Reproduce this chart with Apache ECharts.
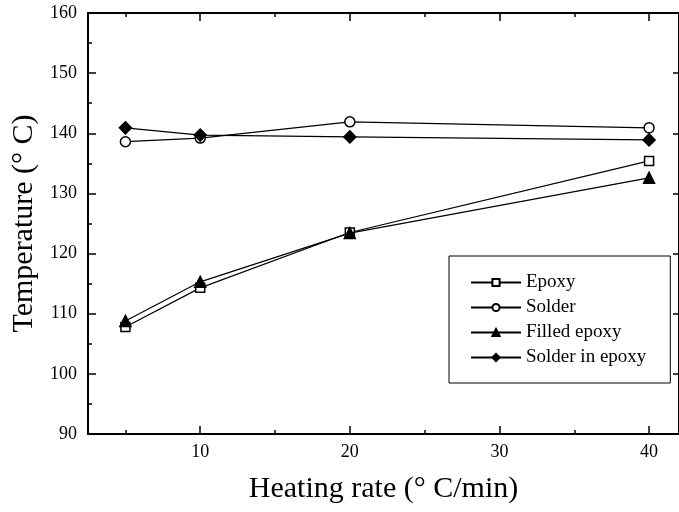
<!DOCTYPE html>
<html>
<head>
<meta charset="utf-8">
<script src="https://cdn.jsdelivr.net/npm/echarts@6/dist/echarts.min.js"></script>
<style>
  html, body { margin: 0; padding: 0; background: #fff; }
  #chart { width: 679px; height: 512px; }
</style>
</head>
<body>
<div id="chart"></div>
<script>
// heating rate (°C/min)
var rates = [5, 10, 20, 40];
// temperatures (°C)
var epoxy = [107.8, 114.3, 123.5, 135.4];
var solder = [138.6, 139.2, 141.9, 140.9];
var filledEpoxy = [108.8, 115.3, 123.4, 132.6];
var solderInEpoxy = [140.9, 139.7, 139.4, 138.9];

var xMajor = [10, 20, 30, 40];
var xMinor = [5, 15, 25, 35];

var font = 'Liberation Serif, Times New Roman, serif';

function pairs (ys) {
  return rates.map(function (x, i) { return [x, ys[i]] })
}

function tickAxis (position, values, len, isMain) {
  var ax = {
    type: 'value',
    position: position,
    min: 2.5,
    max: 42,
    axisLine: { show: isMain, lineStyle: { color: '#000', width: 2 } },
    axisTick: { show: true, inside: true, length: len, customValues: values, lineStyle: { color: '#000', width: 1.5 } },
    axisLabel: { show: false },
    splitLine: { show: false }
  }
  return ax
}

var mainX = tickAxis('bottom', xMajor, 8, true)
mainX.axisLabel = { show: true, customValues: xMajor, fontSize: 18, fontFamily: font, color: '#000', margin: 9 }
mainX.name = 'Heating rate (° C/min)'
mainX.nameLocation = 'middle'
mainX.nameGap = 40
mainX.nameTextStyle = { fontSize: 30, fontFamily: font, color: '#000' }

var lineSeries = function (name, ys, symbol, size, filled) {
  return {
    name: name,
    type: 'line',
    data: pairs(ys),
    symbol: symbol,
    symbolSize: size,
    showAllSymbol: true,
    lineStyle: { color: '#000', width: 1.2 },
    itemStyle: { color: filled ? '#000' : '#fff', borderColor: '#000', borderWidth: 1.5 },
    emphasis: { disabled: true },
    z: filled ? 3 : 2
  }
}

var chart = echarts.init(document.getElementById('chart'))
chart.setOption({
  animation: false,
  grid: { left: 88, right: -3, top: 13, bottom: 78, containLabel: false },
  xAxis: [
    mainX,
    tickAxis('bottom', xMinor, 4, false),
    tickAxis('top', xMajor, 8, true),
    tickAxis('top', xMinor, 4, false)
  ],
  yAxis: [
    {
      type: 'value',
      position: 'left',
      min: 90,
      max: 160,
      interval: 10,
      axisLine: { show: true, lineStyle: { color: '#000', width: 2 } },
      axisTick: { show: true, inside: true, length: 8, lineStyle: { color: '#000', width: 1.5 } },
      minorTick: { show: true, splitNumber: 2, length: 4, lineStyle: { color: '#000', width: 1.5 } },
      axisLabel: { fontSize: 18, fontFamily: font, color: '#000', margin: 11 },
      splitLine: { show: false },
      name: 'Temperature (° C)',
      nameLocation: 'middle',
      nameGap: 49,
      nameTextStyle: { fontSize: 30, fontFamily: font, color: '#000' }
    },
    {
      type: 'value',
      position: 'right',
      min: 90,
      max: 160,
      interval: 10,
      axisLine: { show: true, lineStyle: { color: '#000', width: 2 } },
      axisTick: { show: true, inside: true, length: 6, lineStyle: { color: '#000', width: 1.5 } },
      axisLabel: { show: false },
      splitLine: { show: false }
    }
  ],
  legend: {
    orient: 'vertical',
    left: 449,
    top: 256,
    padding: [17, 24, 16, 21],
    itemWidth: 50,
    itemHeight: 9,
    itemGap: 6,
    backgroundColor: '#fff',
    borderColor: '#000',
    borderWidth: 1,
    borderRadius: 0,
    textStyle: { fontSize: 19, lineHeight: 17, fontFamily: font, color: '#000' },
    data: ['Epoxy', 'Solder', 'Filled epoxy', 'Solder in epoxy']
  },
  series: [
    lineSeries('Epoxy', epoxy, 'rect', 9, false),
    lineSeries('Solder', solder, 'circle', 10, false),
    lineSeries('Filled epoxy', filledEpoxy, 'triangle', 11, true),
    lineSeries('Solder in epoxy', solderInEpoxy, 'diamond', 12, true)
  ]
})
</script>
</body>
</html>
